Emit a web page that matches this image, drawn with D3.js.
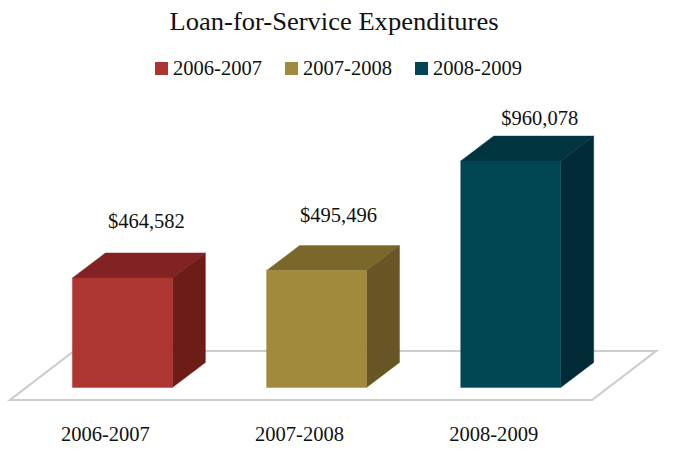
<!DOCTYPE html>
<html><head><meta charset="utf-8">
<script src="https://cdnjs.cloudflare.com/ajax/libs/d3/7.8.5/d3.min.js"></script>
<style>html,body{margin:0;padding:0;background:#fff}svg{display:block}text{font-family:"Liberation Serif",serif;fill:#111}</style>
</head><body><svg id="c" width="683" height="468"></svg>
<script>
const categories=["2006-2007","2007-2008","2008-2009"];
const values=[464582,495496,960078];
const valueLabels=["$464,582","$495,496","$960,078"];
const frontColors=["#ad3430","#a28a3d","#024653"];
const topColors=["#832320","#7a6729","#013640"];
const sideColors=["#6e1a18","#695726","#012c35"];
const title="Loan-for-Service Expenditures";

const svg=d3.select("#c");
const x=d3.scaleBand().domain(categories).range([25.8,607.3]).paddingInner(0.485).paddingOuter(0.24);
const y=d3.scaleLinear().domain([0,960078]).range([387.5,161]);
const dx=33,dy=-25;
const soft=svg.append("defs").append("filter").attr("id","soft");
soft.append("feGaussianBlur").attr("stdDeviation",0.5);

const g=svg.append("g").attr("filter","url(#soft)");
const poly=(pts,fill)=>g.append("polygon").attr("points",pts.map(p=>p.join(",")).join(" ")).attr("fill",fill).attr("stroke",fill).attr("stroke-width",0.4);

g.append("polygon").attr("points","10,400 592,400 656,351 74,351")
 .attr("fill","#fff").attr("stroke","#cdcdcd").attr("stroke-width",2.2);

categories.forEach((c,i)=>{
  const l=x(c),r=l+x.bandwidth(),t=y(values[i]),b=y(0);
  poly([[l,t],[l+dx,t+dy],[r+dx,t+dy],[r,t]],topColors[i]);
  poly([[r,t],[r+dx,t+dy],[r+dx,b+dy],[r,b]],sideColors[i]);
  poly([[l,t],[r,t],[r,b],[l,b]],frontColors[i]);
});

svg.append("text").attr("x",334).attr("y",30).attr("text-anchor","middle")
 .attr("font-size",25).attr("textLength",329).attr("lengthAdjust","spacingAndGlyphs").text(title);

const legendX=[155,285,415];
categories.forEach((c,i)=>{
  svg.append("rect").attr("x",legendX[i]).attr("y",62).attr("width",13).attr("height",13).attr("fill",frontColors[i]);
  svg.append("text").attr("x",legendX[i]+18).attr("y",75).attr("font-size",20)
   .attr("textLength",89).attr("lengthAdjust","spacingAndGlyphs").text(c);
});

const labelDx=[24,22,29], labelDy=[-49.5,-49,-36];
categories.forEach((c,i)=>{
  const mid=x(c)+x.bandwidth()/2;
  svg.append("text").attr("x",mid+labelDx[i]).attr("y",y(values[i])+labelDy[i])
   .attr("text-anchor","middle").attr("font-size",20).attr("textLength",77).attr("lengthAdjust","spacingAndGlyphs").text(valueLabels[i]);
  svg.append("text").attr("x",mid-17).attr("y",441).attr("text-anchor","middle")
   .attr("font-size",20).attr("textLength",89).attr("lengthAdjust","spacingAndGlyphs").text(c);
});
</script></body></html>
